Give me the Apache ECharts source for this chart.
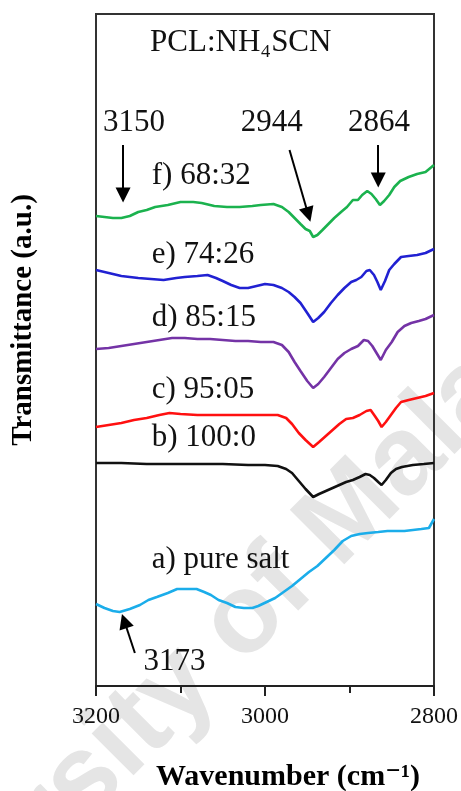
<!DOCTYPE html>
<html>
<head>
<meta charset="utf-8">
<script src="https://cdn.jsdelivr.net/npm/echarts@6/dist/echarts.min.js"></script>
<style>
  html, body { margin: 0; padding: 0; background: #fff; }
  #chart { width: 461px; height: 791px; }
</style>
</head>
<body>
<div id="chart"></div>
<script>
// FTIR spectra of PCL:NH4SCN films, 3200–2800 cm-1 (stacked, offset traces)

const tickLabels = [3200, 3000, 2800];

// f) 68:32
const wnF = [3200,3190,3180,3170,3160,3150,3140,3130,3115,3100,3085,3075,3060,3045,3030,3015,3005,2990,2980,2972,2965,2958,2952,2947,2943,2938,2932,2925,2918,2910,2903,2896,2890,2885,2879,2874,2869,2864,2859,2853,2847,2840,2830,2820,2810,2800];
const tF  = [470,469,468,468,470,474,476,479,481,484,484,483,480,479,479,480,481,482,479,474,468,462,457,455,449,451,456,462,468,474,479,486,486,491,495,492,487,481,485,491,499,505,509,512,514,521];

// e) 74:26
const wnE = [3200,3190,3180,3170,3160,3150,3135,3120,3105,3095,3080,3068,3058,3050,3040,3030,3020,3010,3000,2990,2980,2972,2965,2958,2950,2943,2937,2930,2922,2914,2906,2898,2892,2886,2880,2876,2871,2867,2863,2858,2853,2847,2839,2830,2820,2810,2800];
const tE  = [416,414,412,410,409,408,407,406,408,409,410,411,408,405,401,398,398,400,402,401,398,394,389,383,373,364,368,374,383,391,398,404,406,409,415,416,411,404,396,405,416,422,429,430,431,433,437];

// d) 85:15
const wnD = [3200,3185,3170,3155,3140,3125,3110,3095,3080,3065,3050,3035,3020,3005,2990,2980,2972,2965,2958,2950,2943,2937,2930,2922,2914,2906,2898,2890,2883,2878,2873,2868,2863,2857,2850,2843,2835,2827,2818,2810,2800];
const tD  = [337,338,340,342,344,346,348,348,347,347,346,345,345,344,344,341,334,324,315,305,298,302,309,318,327,333,337,340,346,345,340,333,326,336,344,354,360,363,365,367,371];

// c) 95:05
const wnC = [3200,3185,3170,3155,3140,3125,3113,3100,3080,3060,3040,3020,3000,2985,2975,2968,2960,2952,2943,2936,2928,2920,2912,2904,2896,2888,2880,2875,2870,2866,2862,2857,2851,2845,2839,2830,2820,2810,2800];
const tC  = [259,261,263,266,268,271,273,272,271,271,271,271,271,271,268,262,253,246,239,244,250,256,262,267,268,271,275,276,270,265,259,264,271,278,284,286,288,290,293];

// b) 100:0
const wnB = [3200,3170,3140,3110,3080,3050,3020,3000,2985,2975,2968,2960,2952,2943,2936,2928,2920,2912,2904,2896,2888,2881,2876,2871,2866,2862,2857,2851,2845,2838,2825,2812,2800];
const tB  = [223,223,222,222,222,222,221,221,220,217,213,205,197,189,192,195,198,201,204,206,209,212,211,208,204,201,206,213,217,219,221,222,223];

// a) pure salt
const wnA = [3200,3190,3180,3172,3160,3148,3138,3128,3115,3104,3092,3081,3072,3064,3055,3045,3035,3025,3015,3008,2998,2988,2978,2968,2958,2948,2938,2928,2918,2908,2898,2888,2878,2866,2855,2845,2835,2825,2815,2806,2800];
const tA  = [82,78,75,74,77,81,86,89,93,97,97,97,94,91,86,83,79,78,78,80,84,88,94,100,107,114,120,128,136,145,150,152,153,154,155,155,155,156,157,158,167];

const seriesNames = ['f) 68:32', 'e) 74:26', 'd) 85:15', 'c) 95:05', 'b) 100:0', 'a) pure salt'];
const seriesWn = [wnF, wnE, wnD, wnC, wnB, wnA];
const seriesT  = [tF, tE, tD, tC, tB, tA];
const seriesColors = ['#1bb24e', '#2121d2', '#7433a6', '#ff1010', '#111111', '#1badea'];

// Peak markers
const peakLabels = ['3150', '2944', '2864', '3173'];

const SERIF = '"Liberation Serif", "Times New Roman", "DejaVu Serif", serif';

const chart = echarts.init(document.getElementById('chart'), null, { renderer: 'canvas' });

const zip = (xs, ys) => xs.map((x, i) => [x, ys[i]]);

const lineSeries = seriesNames.map((name, i) => ({
  name,
  type: 'line',
  data: zip(seriesWn[i], seriesT[i]),
  showSymbol: false,
  symbol: 'none',
  smooth: false,
  z: 3,
  lineStyle: { color: seriesColors[i], width: 2.6 },
  animation: false
}));

// Arrows drawn in data space: [fromWn, fromT, toWn, toT]
const arrows = [
  [3168, 541, 3168, 491],
  [2971, 536, 2948.8, 471.5],
  [2866, 541, 2866, 506],
  [3154, 33, 3166.5, 65]
];

lineSeries.push({
  name: 'peaks',
  type: 'line',
  data: [],
  z: 4,
  animation: false,
  markLine: {
    silent: true,
    animation: false,
    symbol: ['none', 'triangle'],
    symbolSize: 15,
    label: { show: false },
    lineStyle: { color: '#000', width: 2, type: 'solid' },
    itemStyle: { color: '#000' },
    data: arrows.map(a => [{ coord: [a[0], a[1]] }, { coord: [a[2], a[3]] }])
  }
});

chart.setOption({
  backgroundColor: '#fff',
  animation: false,
  grid: {
    left: 96, right: 26, top: 14, bottom: 105,
    show: true, borderColor: '#333', borderWidth: 2, backgroundColor: 'transparent'
  },
  xAxis: {
    type: 'value',
    inverse: true,
    min: 2800, max: 3200, interval: 200,
    axisLine: { show: true, lineStyle: { color: '#222', width: 2 } },
    axisTick: { show: true, inside: false, length: 10, lineStyle: { color: '#222', width: 2 } },
    minorTick: { show: true, splitNumber: 2, length: 7, lineStyle: { color: '#222', width: 2 } },
    splitLine: { show: false },
    axisLabel: {
      margin: 19,
      fontFamily: SERIF, fontSize: 24, color: '#111',
      formatter: v => (tickLabels.includes(v) ? String(v) : '')
    }
  },
  yAxis: {
    type: 'value',
    min: 0, max: 672,
    show: false
  },
  series: lineSeries
});

// Text annotations, anchored in data space
const px = (wn, t) => chart.convertToPixel({ gridIndex: 0 }, [wn, t]);

const textItems = [
  // [text, wn, T, align]
  ['PCL:NH\u2084SCN', 3136, 643, 'left'],
  [peakLabels[0], 3155, 563, 'center'],
  [peakLabels[1], 2992, 563, 'center'],
  [peakLabels[2], 2865, 563, 'center'],
  [peakLabels[3], 3107, 24, 'center'],
  [seriesNames[0], 3134, 510, 'left'],
  [seriesNames[1], 3134, 431, 'left'],
  [seriesNames[2], 3134, 368, 'left'],
  [seriesNames[3], 3134, 296, 'left'],
  [seriesNames[4], 3134, 248, 'left'],
  [seriesNames[5], 3134, 126, 'left']
];

const graphics = textItems.map(([text, wn, t, align]) => {
  const p = px(wn, t);
  return {
    type: 'text', x: p[0], y: p[1], z: 10, silent: true,
    style: {
      text, fill: '#111', font: '31px ' + SERIF,
      textAlign: align, textVerticalAlign: 'middle'
    }
  };
});

// Axis titles
graphics.push({
  type: 'text', x: 288, y: 777, z: 10, silent: true,
  style: {
    text: 'Wavenumber (cm\u207B\u00B9)', fill: '#000',
    font: 'bold 30px ' + SERIF, textAlign: 'center', textVerticalAlign: 'middle'
  }
});
graphics.push({
  type: 'text', x: 24, y: 320, rotation: Math.PI / 2, z: 10, silent: true,
  style: {
    text: 'Transmittance (a.u.)', fill: '#000',
    font: 'bold 29px ' + SERIF, textAlign: 'center', textVerticalAlign: 'middle'
  }
});

// Repository watermark behind the plot
const wmFont = 'bold 112px "Liberation Sans", Arial, sans-serif';
graphics.push({
  type: 'group', x: 62, y: 803, rotation: Math.PI / 4, z: -5, silent: true,
  children: [
    { type: 'text', z: -5, style: { text: 'Univer', fill: '#e5e5e5', font: wmFont, textAlign: 'right', textVerticalAlign: 'middle' } },
    { type: 'text', z: -5, style: { text: 'sity of Malaya', fill: '#e5e5e5', font: wmFont, textAlign: 'left', textVerticalAlign: 'middle' } }
  ]
});

chart.setOption({ graphic: graphics });
</script>
</body>
</html>
